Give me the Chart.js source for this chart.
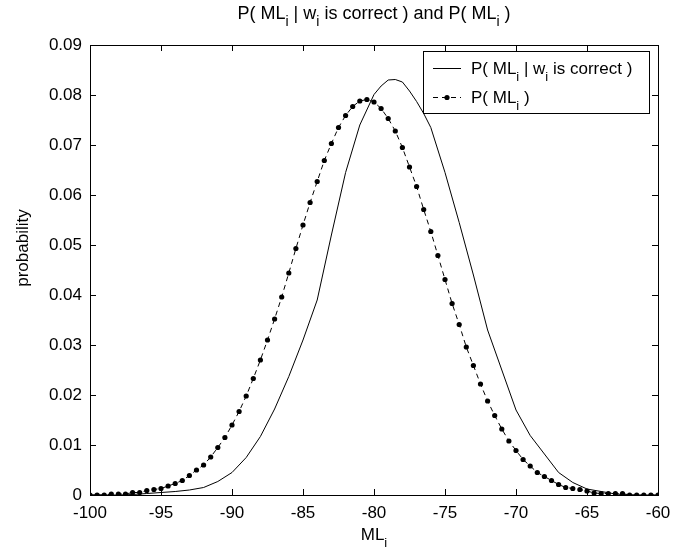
<!DOCTYPE html>
<html lang="en">
<head>
  <meta charset="UTF-8" />
  <title>P( ML | w is correct ) and P( ML )</title>
  <script src="https://cdn.jsdelivr.net/npm/chart.js"></script>
  <style>
    html, body { margin: 0; padding: 0; background: #fff; }
    #wrap { width: 692px; height: 556px; }
  </style>
</head>
<body>
  <div id="wrap"><canvas id="chartML"></canvas></div>

  <script>
    // P( ML_i ) - dotted series, one point every 0.5
    const xDots = [
      -100, -99.5, -99, -98.5, -98, -97.5, -97, -96.5, -96, -95.5,
      -95, -94.5, -94, -93.5, -93, -92.5, -92, -91.5, -91, -90.5,
      -90, -89.5, -89, -88.5, -88, -87.5, -87, -86.5, -86, -85.5,
      -85, -84.5, -84, -83.5, -83, -82.5, -82, -81.5, -81, -80.5,
      -80, -79.5, -79, -78.5, -78, -77.5, -77, -76.5, -76, -75.5,
      -75, -74.5, -74, -73.5, -73, -72.5, -72, -71.5, -71, -70.5,
      -70, -69.5, -69, -68.5, -68, -67.5, -67, -66.5, -66, -65.5,
      -65, -64.5, -64, -63.5, -63, -62.5, -62, -61.5, -61, -60.5,
      -60
    ];
    const pML = [
      0, 0, 0, 0.0002, 0.0002, 0.0002, 0.0005, 0.0005, 0.0009, 0.0011,
      0.0013, 0.0018, 0.0023, 0.0029, 0.0039, 0.005, 0.006, 0.0076, 0.0095, 0.0115,
      0.014, 0.0167, 0.0198, 0.0233, 0.027, 0.031, 0.0352, 0.0396, 0.0444, 0.0493,
      0.054, 0.0585, 0.0627, 0.0669, 0.0703, 0.0735, 0.0759, 0.0777, 0.0788, 0.0791,
      0.0786, 0.0773, 0.0753, 0.0728, 0.0695, 0.0656, 0.0617, 0.0571, 0.0527, 0.0479,
      0.0431, 0.0383, 0.0341, 0.0296, 0.0259, 0.0222, 0.0188, 0.0159, 0.0132, 0.0108,
      0.0089, 0.0071, 0.0058, 0.0045, 0.0037, 0.0029, 0.0021, 0.0015, 0.0013, 0.0011,
      0.0008, 0.0004, 0.0003, 0.0003, 0.0003, 0.0003, 0, 0, 0, 0,
      0
    ];

    // P( ML_i | w_i is correct ) - solid series
    const xSolid = [
      -100, -99, -98, -97, -96, -95, -94, -93, -92, -91,
      -90, -89, -88, -87, -86, -85, -84, -83, -82, -81,
      -80, -79.5, -79, -78.5, -78, -77.5, -77, -76.5, -76, -75,
      -74, -73, -72, -71, -70, -69, -68, -67, -66, -65,
      -64, -63, -62, -61, -60
    ];
    const pMLcorrect = [
      0, 0, 0, 0.0001, 0.0003, 0.0005, 0.0007, 0.001, 0.0015, 0.0027,
      0.0045, 0.0075, 0.0117, 0.0172, 0.0237, 0.031, 0.039, 0.052, 0.0645, 0.074,
      0.0801, 0.0818, 0.083, 0.0831, 0.0826, 0.0808, 0.0787, 0.0763, 0.0735, 0.0645,
      0.0545, 0.044, 0.033, 0.025, 0.017, 0.0119, 0.0082, 0.0045, 0.0025, 0.0012,
      0.0007, 0.0002, 0, 0, 0
    ];

    const xTicks = [-100, -95, -90, -85, -80, -75, -70, -65, -60];
    const yTicks = [0, 0.01, 0.02, 0.03, 0.04, 0.05, 0.06, 0.07, 0.08, 0.09];

    const FONT = '"Liberation Sans", Arial, Helvetica, sans-serif';
    const SIZE = 17;

    const titleParts = [["P( ML"], ["i", 1], [" | w"], ["i", 1], [" is correct ) and P( ML"], ["i", 1], [" )"]];
    const legendParts1 = [["P( ML"], ["i", 1], [" | w"], ["i", 1], [" is correct )"]];
    const legendParts2 = [["P( ML"], ["i", 1], [" )"]];
    const xTitleParts = [["ML"], ["i", 1]];

    function richWidth(ctx, parts, size) {
      let w = 0;
      parts.forEach(p => {
        ctx.font = (p[1] ? Math.round(size * 0.75) : size) + "px " + FONT;
        w += ctx.measureText(p[0]).width;
      });
      return w;
    }

    function drawRich(ctx, parts, x, y, align, size) {
      let cx = align === "center" ? x - richWidth(ctx, parts, size) / 2 : x;
      ctx.textAlign = "left";
      ctx.textBaseline = "alphabetic";
      ctx.fillStyle = "#000";
      parts.forEach(p => {
        const sub = !!p[1];
        ctx.font = (sub ? Math.round(size * 0.75) : size) + "px " + FONT;
        ctx.fillText(p[0], cx, y + (sub ? size * 0.4 : 0));
        cx += ctx.measureText(p[0]).width;
      });
    }

    const decor = {
      id: "decor",
      afterDraw(chart) {
        const ctx = chart.ctx;
        const a = chart.chartArea;
        const xs = chart.scales.x, ys = chart.scales.y;
        ctx.save();

        // frame
        ctx.strokeStyle = "#000";
        ctx.lineWidth = 1;
        ctx.strokeRect(Math.round(a.left) + 0.5, Math.round(a.top) + 0.5,
          Math.round(a.right - a.left), Math.round(a.bottom - a.top));

        // inward ticks
        ctx.beginPath();
        xTicks.forEach(v => {
          const px = Math.round(xs.getPixelForValue(v)) + 0.5;
          ctx.moveTo(px, a.bottom); ctx.lineTo(px, a.bottom - 6);
          ctx.moveTo(px, a.top); ctx.lineTo(px, a.top + 6);
        });
        yTicks.forEach(v => {
          const py = Math.round(ys.getPixelForValue(v)) + 0.5;
          ctx.moveTo(a.left, py); ctx.lineTo(a.left + 6, py);
          ctx.moveTo(a.right, py); ctx.lineTo(a.right - 6, py);
        });
        ctx.stroke();

        // title and axis titles
        drawRich(ctx, titleParts, (a.left + a.right) / 2, 19, "center", 18);
        drawRich(ctx, xTitleParts, (a.left + a.right) / 2, 540, "center", SIZE);

        ctx.save();
        ctx.translate(28, 248);
        ctx.rotate(-Math.PI / 2);
        ctx.font = SIZE + "px " + FONT;
        ctx.textAlign = "center";
        ctx.fillStyle = "#000";
        ctx.fillText("probability", 0, 0);
        ctx.restore();

        // legend
        const lx = 423, ly = 51, lw = 226, lh = 62;
        ctx.fillStyle = "#fff";
        ctx.fillRect(lx, ly, lw, lh);
        ctx.strokeStyle = "#000";
        ctx.strokeRect(lx + 0.5, ly + 0.5, lw, lh);

        ctx.beginPath();
        ctx.lineWidth = 1;
        ctx.moveTo(433, 68.5); ctx.lineTo(461, 68.5);
        ctx.stroke();
        ctx.setLineDash([5, 4]);
        ctx.beginPath();
        ctx.moveTo(433, 97.5); ctx.lineTo(461, 97.5);
        ctx.stroke();
        ctx.setLineDash([]);
        ctx.beginPath();
        ctx.fillStyle = "#000";
        ctx.arc(447, 97.5, 2.6, 0, Math.PI * 2);
        ctx.fill();

        drawRich(ctx, legendParts1, 471, 74, "left", SIZE);
        drawRich(ctx, legendParts2, 471, 103, "left", SIZE);

        ctx.restore();
      }
    };

    new Chart(document.getElementById("chartML"), {
      type: "line",
      data: {
        datasets: [
          {
            label: "P( ML | w is correct )",
            data: xSolid.map((x, i) => ({ x: x, y: pMLcorrect[i] })),
            borderColor: "#000",
            borderWidth: 1,
            pointRadius: 0,
            tension: 0,
            fill: false
          },
          {
            label: "P( ML )",
            data: xDots.map((x, i) => ({ x: x, y: pML[i] })),
            borderColor: "#000",
            borderWidth: 1,
            borderDash: [5, 4],
            pointRadius: 2.6,
            pointBackgroundColor: "#000",
            pointBorderWidth: 0,
            tension: 0,
            fill: false
          }
        ]
      },
      options: {
        responsive: true,
        maintainAspectRatio: false,
        animation: false,
        layout: { padding: { top: 45, right: 34, left: 0, bottom: 0 } },
        plugins: {
          legend: { display: false },
          title: { display: false },
          tooltip: { enabled: false }
        },
        scales: {
          x: {
            type: "linear",
            min: -100,
            max: -60,
            afterFit: s => { s.height = 61; },
            afterBuildTicks: s => { s.ticks = xTicks.map(v => ({ value: v })); },
            grid: { display: false, drawTicks: false },
            border: { display: false },
            ticks: {
              color: "#000",
              padding: 8,
              maxRotation: 0,
              font: { family: FONT, size: SIZE },
              callback: v => String(v)
            }
          },
          y: {
            min: 0,
            max: 0.09,
            afterFit: s => { s.width = 90; },
            afterBuildTicks: s => { s.ticks = yTicks.map(v => ({ value: v })); },
            grid: { display: false, drawTicks: false },
            border: { display: false },
            ticks: {
              color: "#000",
              padding: 8,
              font: { family: FONT, size: SIZE },
              callback: v => v === 0 ? "0" : v.toFixed(2)
            }
          }
        }
      },
      plugins: [decor]
    });
  </script>
</body>
</html>
